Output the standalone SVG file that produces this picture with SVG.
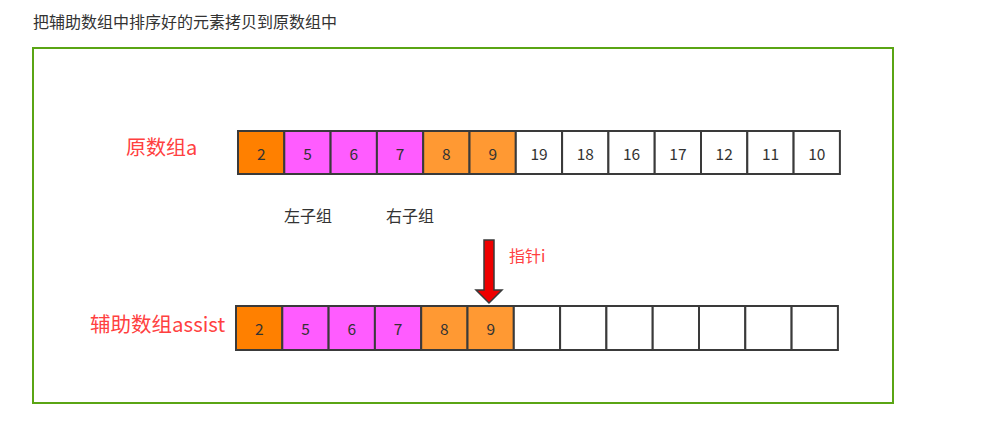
<svg xmlns="http://www.w3.org/2000/svg" width="992" height="438" viewBox="0 0 992 438">
<style>
text{font-family:"Noto Sans CJK SC","Noto Sans",sans-serif}
.c{stroke:#3a3a3a;stroke-width:2}
.w{fill:#fff}.o{fill:#ff8000}.p{fill:#ff5cff}.l{fill:#ff9933}
.n{font-size:15.5px;fill:#333;text-anchor:middle;dominant-baseline:central}
.r{fill:#ff4040}
.g{font-size:16px;fill:#333}
</style>
<rect width="992" height="438" fill="#fff"/>
<text x="33" y="28" class="g" font-size="17">把辅助数组中排序好的元素拷贝到原数组中</text>
<rect x="33" y="48" width="860" height="355" fill="none" stroke="#5aa514" stroke-width="2"/>
<g id="label-a"><text x="126" y="155" class="r" font-size="20">原数组a</text></g>
<g id="label-assist"><text x="90" y="332" class="r" font-size="20.5">辅助数组assist</text></g>
<g id="label-left"><text x="284" y="222" class="g">左子组</text></g>
<g id="label-right"><text x="386" y="222" class="g">右子组</text></g>
<g id="label-pointer"><text x="509" y="262" class="r" font-size="16">指针i</text></g>
<g id="array-a">
<rect class="c o" x="238" y="131" width="46.3" height="43"/><text class="n" x="261.2" y="153">2</text>
<rect class="c p" x="284.3" y="131" width="46.3" height="43"/><text class="n" x="307.5" y="153">5</text>
<rect class="c p" x="330.6" y="131" width="46.3" height="43"/><text class="n" x="353.8" y="153">6</text>
<rect class="c p" x="376.9" y="131" width="46.3" height="43"/><text class="n" x="400.1" y="153">7</text>
<rect class="c l" x="423.2" y="131" width="46.3" height="43"/><text class="n" x="446.4" y="153">8</text>
<rect class="c l" x="469.5" y="131" width="46.3" height="43"/><text class="n" x="492.7" y="153">9</text>
<rect class="c w" x="515.8" y="131" width="46.3" height="43"/><text class="n" x="539" y="153">19</text>
<rect class="c w" x="562.1" y="131" width="46.3" height="43"/><text class="n" x="585.3" y="153">18</text>
<rect class="c w" x="608.4" y="131" width="46.3" height="43"/><text class="n" x="631.6" y="153">16</text>
<rect class="c w" x="654.7" y="131" width="46.3" height="43"/><text class="n" x="677.9" y="153">17</text>
<rect class="c w" x="701" y="131" width="46.3" height="43"/><text class="n" x="724.2" y="153">12</text>
<rect class="c w" x="747.3" y="131" width="46.3" height="43"/><text class="n" x="770.5" y="153">11</text>
<rect class="c w" x="793.6" y="131" width="46.3" height="43"/><text class="n" x="816.8" y="153">10</text>
</g>
<g id="array-assist">
<rect class="c o" x="236" y="306" width="46.3" height="44"/><text class="n" x="259.2" y="328">2</text>
<rect class="c p" x="282.3" y="306" width="46.3" height="44"/><text class="n" x="305.5" y="328">5</text>
<rect class="c p" x="328.6" y="306" width="46.3" height="44"/><text class="n" x="351.8" y="328">6</text>
<rect class="c p" x="374.9" y="306" width="46.3" height="44"/><text class="n" x="398.1" y="328">7</text>
<rect class="c l" x="421.2" y="306" width="46.3" height="44"/><text class="n" x="444.4" y="328">8</text>
<rect class="c l" x="467.5" y="306" width="46.3" height="44"/><text class="n" x="490.7" y="328">9</text>
<rect class="c w" x="513.8" y="306" width="46.3" height="44"/>
<rect class="c w" x="560.1" y="306" width="46.3" height="44"/>
<rect class="c w" x="606.4" y="306" width="46.3" height="44"/>
<rect class="c w" x="652.7" y="306" width="46.3" height="44"/>
<rect class="c w" x="699" y="306" width="46.3" height="44"/>
<rect class="c w" x="745.3" y="306" width="46.3" height="44"/>
<rect class="c w" x="791.6" y="306" width="46.3" height="44"/>
</g>
<g id="connectors">
<path d="M484,240 H494 V290 H502 L489,303 L476,290 H484 Z" fill="#ee0000" stroke="#3a3a3a" stroke-width="1.5" stroke-linejoin="miter"/>
</g>
</svg>
